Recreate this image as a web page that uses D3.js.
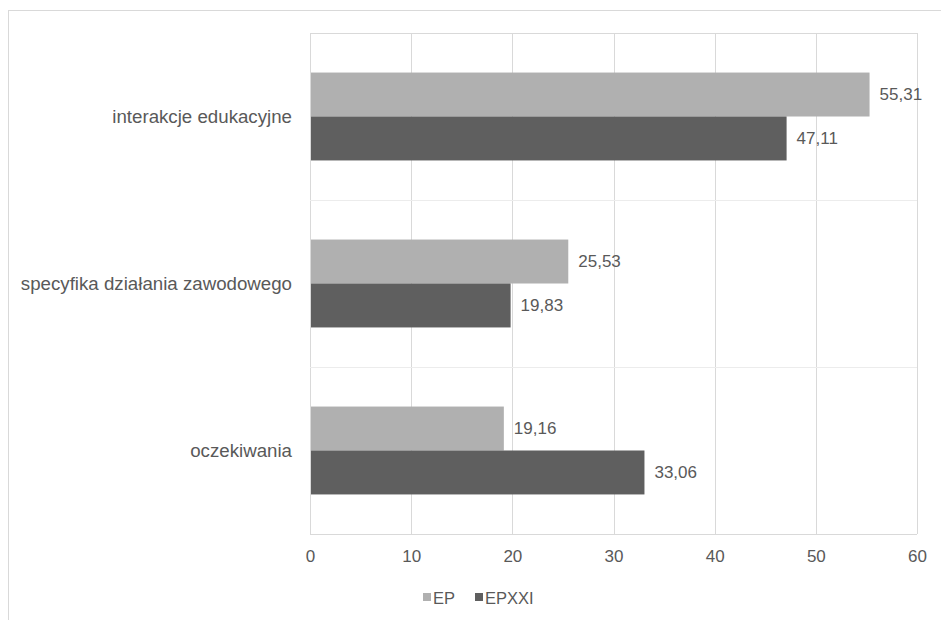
<!DOCTYPE html>
<html>
<head>
<meta charset="utf-8">
<script src="https://cdn.jsdelivr.net/npm/d3@7"></script>
<style>
  body { margin: 0; background: #fff; }
  svg text { font-family: "Liberation Sans", Arial, sans-serif; fill: #595959; }
</style>
</head>
<body>
<div id="chart"></div>
<script>
const categories = ['interakcje edukacyjne', 'specyfika działania zawodowego', 'oczekiwania'];
const seriesNames = ['EP', 'EPXXI'];
const epValues = [55.31, 25.53, 19.16];
const epxxiValues = [47.11, 19.83, 33.06];
const xTicks = [0, 10, 20, 30, 40, 50, 60];
const colors = ['#b0b0b0', '#5f5f5f'];

const width = 941, height = 620;
const margin = { top: 33, right: 24, bottom: 86, left: 310 };

const svg = d3.select('#chart').append('svg')
    .attr('width', width)
    .attr('height', height);

// chart border
svg.append('rect')
    .attr('x', 8.5).attr('y', 10.5)
    .attr('width', 940).attr('height', 620)
    .attr('fill', 'none')
    .attr('stroke', '#d9d9d9');

const x = d3.scaleLinear()
    .domain([0, 60])
    .range([margin.left, width - margin.right]);

const y = d3.scaleBand()
    .domain(categories)
    .range([margin.top, height - margin.bottom]);

const inner = d3.scaleBand()
    .domain(seriesNames)
    .range([0, y.bandwidth()])
    .paddingOuter(0.9);

// vertical gridlines
svg.append('g')
    .selectAll('line')
    .data(xTicks)
    .enter().append('line')
    .attr('x1', d => Math.round(x(d)) + 0.5)
    .attr('x2', d => Math.round(x(d)) + 0.5)
    .attr('y1', margin.top)
    .attr('y2', height - margin.bottom)
    .attr('stroke', '#d9d9d9');

// horizontal category separators
const sepY = categories.map(c => y(c)).concat([height - margin.bottom]);
svg.append('g')
    .selectAll('line')
    .data(sepY)
    .enter().append('line')
    .attr('x1', x(0))
    .attr('x2', x(60))
    .attr('y1', d => Math.round(d) + 0.5)
    .attr('y2', d => Math.round(d) + 0.5)
    .attr('stroke', (d, i) => i === 0 || i === sepY.length - 1 ? '#d9d9d9' : '#ececec');

const rows = categories.map((c, i) => ({
    cat: c,
    vals: [
        { s: 'EP', v: epValues[i] },
        { s: 'EPXXI', v: epxxiValues[i] }
    ]
}));

const groups = svg.append('g')
    .selectAll('g')
    .data(rows)
    .enter().append('g')
    .attr('transform', d => `translate(0,${y(d.cat)})`);

groups.selectAll('rect')
    .data(d => d.vals)
    .enter().append('rect')
    .attr('x', x(0) + 1)
    .attr('y', d => inner(d.s))
    .attr('width', d => x(d.v) - x(0) - 1)
    .attr('height', inner.bandwidth())
    .attr('fill', (d, i) => colors[i]);

groups.selectAll('text.val')
    .data(d => d.vals)
    .enter().append('text')
    .attr('class', 'val')
    .attr('x', d => x(d.v) + 10)
    .attr('y', d => inner(d.s) + inner.bandwidth() / 2)
    .attr('dy', '0.35em')
    .attr('font-size', 17)
    .text(d => d.v.toFixed(2).replace('.', ','));

// category labels
svg.append('g')
    .selectAll('text')
    .data(categories)
    .enter().append('text')
    .attr('x', margin.left - 18)
    .attr('y', d => y(d) + y.bandwidth() / 2)
    .attr('dy', '0.35em')
    .attr('text-anchor', 'end')
    .attr('font-size', 18.7)
    .text(d => d);

// x axis labels
const xAxis = svg.append('g')
    .attr('transform', `translate(0,${height - margin.bottom})`)
    .call(d3.axisBottom(x).tickValues(xTicks).tickSize(0).tickPadding(16));
xAxis.select('.domain').remove();
xAxis.selectAll('text')
    .attr('font-size', 17)
    .attr('font-family', '"Liberation Sans", Arial, sans-serif')
    .attr('fill', '#595959');

// legend
const legend = svg.append('g')
    .attr('transform', 'translate(423,598)');
const legendItems = legend.selectAll('g')
    .data(seriesNames)
    .enter().append('g')
    .attr('transform', (d, i) => `translate(${i * 52},0)`);
legendItems.append('rect')
    .attr('x', 0).attr('y', -5)
    .attr('width', 8).attr('height', 8)
    .attr('fill', (d, i) => colors[i]);
legendItems.append('text')
    .attr('x', 10)
    .attr('y', 0)
    .attr('dy', '0.35em')
    .attr('font-size', 16.5)
    .text(d => d);
</script>
</body>
</html>
